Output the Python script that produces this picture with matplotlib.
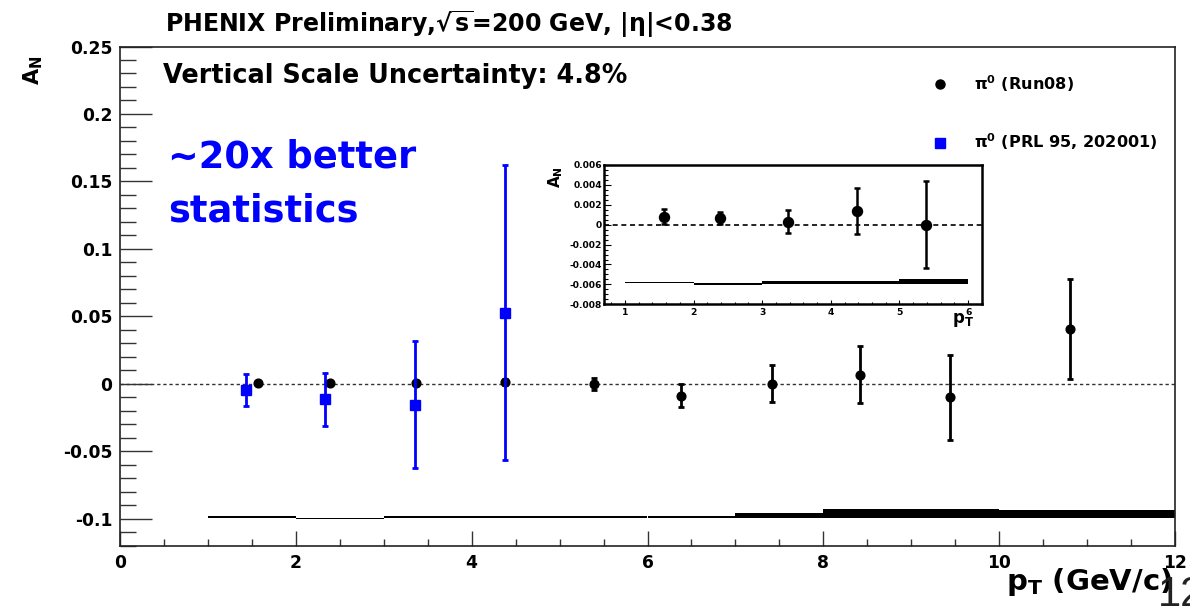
import matplotlib
matplotlib.use('Agg')
import matplotlib.pyplot as plt
import numpy as np
from matplotlib.lines import Line2D
from matplotlib.ticker import MultipleLocator

plt.rcParams['font.family'] = ['DejaVu Sans']
plt.rcParams['font.weight'] = 'bold'
plt.rcParams['mathtext.fontset'] = 'dejavusans'
plt.rcParams['mathtext.default'] = 'bf'

# ---------------- data ----------------
pt_run08 = [1.57, 2.39, 3.37, 4.38, 5.39, 6.38, 7.42, 8.42, 9.44, 10.80]
an_run08 = [0.0008, 0.00067, 0.0003, 0.0014, 0.0000, -0.0090, 0.0000, 0.0068, -0.0101, 0.0405]
err_run08 = [0.00075, 0.0006, 0.00115, 0.0023, 0.0044, 0.0085, 0.0136, 0.0210, 0.0312, 0.0370]

pt_prl = [1.43, 2.33, 3.36, 4.38]
an_prl = [-0.0046, -0.0115, -0.0154, 0.0528]
err_prl = [0.0120, 0.0198, 0.0472, 0.1090]

sys_edges = [1, 2, 3, 4, 5, 6, 7, 8, 9, 10, 12]
sys_lo = [-0.0994, -0.1003, -0.0994, -0.0994, -0.0994, -0.0994, -0.0995, -0.0995, -0.0995, -0.0995]
sys_hi = [-0.0983, -0.0992, -0.0983, -0.0983, -0.0983, -0.0983, -0.0958, -0.0926, -0.0926, -0.0933]

inset_n = 5
inset_sys_edges = [1, 2, 3, 4, 5, 6]
inset_sys_lo = [-0.00590, -0.00607, -0.00594, -0.00594, -0.00597]
inset_sys_hi = [-0.00573, -0.00590, -0.00563, -0.00563, -0.00550]

xticks = [0, 2, 4, 6, 8, 10, 12]
xticklabels = ['0', '2', '4', '6', '8', '10', '12']
yticks = [-0.1, -0.05, 0, 0.05, 0.1, 0.15, 0.2, 0.25]
yticklabels = ['-0.1', '-0.05', '0', '0.05', '0.1', '0.15', '0.2', '0.25']

inset_xticks = [1, 2, 3, 4, 5, 6]
inset_xticklabels = ['1', '2', '3', '4', '5', '6']
inset_yticks = [-0.008, -0.006, -0.004, -0.002, 0, 0.002, 0.004, 0.006]
inset_yticklabels = ['-0.008', '-0.006', '-0.004', '-0.002', '0', '0.002', '0.004', '0.006']

legend_labels = [r'$\pi^0$ (Run08)', r'$\pi^0$ (PRL 95, 202001)']

W, H = 1190, 606
fig = plt.figure(figsize=(W / 100, H / 100), dpi=100)
fig.patch.set_facecolor('white')

# ---------------- main axes ----------------
ax = fig.add_axes([120 / W, 1 - 545.7 / H, 1055 / W, (545.7 - 46.5) / H])
ax.set_xlim(0, 12)
ax.set_ylim(-0.12, 0.25)
ax.axhline(0, color='#333333', lw=1.0, ls=(0, (2.4, 2.0)), zorder=1)

edges = np.array(sys_edges, dtype=float)
lo = np.array(sys_lo)
hi = np.array(sys_hi)
ax.bar(edges[:-1], hi - lo, bottom=lo, width=np.diff(edges), align='edge',
       color='black', linewidth=0, zorder=2)

ax.errorbar(pt_prl, an_prl, yerr=err_prl, fmt='s', color='#0000ff', ms=6.7,
            elinewidth=2.0, capsize=2.2, capthick=2.0, zorder=4)
ax.errorbar(pt_run08, an_run08, yerr=err_run08, fmt='o', color='black', ms=6.3,
            elinewidth=2.0, capsize=2.2, capthick=2.0, zorder=3)

ax.set_xticks(xticks)
ax.set_xticklabels(xticklabels)
ax.set_yticks(yticks)
ax.set_yticklabels(yticklabels)
ax.xaxis.set_minor_locator(MultipleLocator(0.5))
ax.yaxis.set_minor_locator(MultipleLocator(0.01))
ax.tick_params(which='both', direction='in', top=False, right=False, color='#333333', width=1.0)
ax.tick_params(axis='y', which='major', length=23, pad=5.5, labelsize=12.3)
ax.tick_params(axis='y', which='minor', length=11.5)
ax.tick_params(axis='x', which='major', length=10.8, pad=6, labelsize=12.3)
ax.tick_params(axis='x', which='minor', length=5)
for s in ax.spines.values():
    s.set_color('#222222')
    s.set_linewidth(1.2)

# legend
handles = [Line2D([], [], marker='o', ls='none', color='black', ms=6.5),
           Line2D([], [], marker='s', ls='none', color='#0000ff', ms=6.5)]
fig.legend(handles, legend_labels, loc='upper left', bbox_to_anchor=(932 / W, 1 - 73 / H),
           frameon=False, fontsize=11.6, handlelength=1.0, handletextpad=1.6,
           labelspacing=2.35, borderpad=0, borderaxespad=0)

# texts
fig.text(165 / W, 1 - 32 / H, r'PHENIX Preliminary,$\sqrt{s}$=200 GeV, |η|<0.38',
         fontsize=17, ha='left', va='baseline')
fig.text(163 / W, 1 - 82.7 / H, 'Vertical Scale Uncertainty: 4.8%',
         fontsize=18.4, ha='left', va='baseline')
fig.text(168 / W, 1 - 168 / H, '~20x better', color='#0000ff', fontsize=26.5,
         ha='left', va='baseline')
fig.text(168 / W, 1 - 222 / H, 'statistics', color='#0000ff', fontsize=26.5,
         ha='left', va='baseline')
fig.text(33.5 / W, 1 - 85 / H, r'$A_N$', rotation=90, ha='center', va='bottom', fontsize=15)
fig.text(1172 / W, 1 - 590 / H, r'$p_T$ (GeV/c)', ha='right', va='baseline', fontsize=21)
fig.text(1158 / W, 1 - 606 / H, '12', ha='left', va='baseline', fontsize=30,
         fontweight='normal', family=['Liberation Sans', 'DejaVu Sans'], color='#222222')

# ---------------- inset ----------------
axi = fig.add_axes([604.4 / W, 1 - 304.3 / H, 377.4 / W, 139.3 / H])
axi.set_facecolor('white')
axi.set_xlim(0.7, 6.2)
axi.set_ylim(-0.008, 0.006)
axi.axhline(0, color='black', lw=1.2, ls=(0, (3, 2.2)), zorder=1)

iedges = np.array(inset_sys_edges, dtype=float)
ilo = np.array(inset_sys_lo)
ihi = np.array(inset_sys_hi)
axi.bar(iedges[:-1], ihi - ilo, bottom=ilo, width=np.diff(iedges), align='edge',
        color='black', linewidth=0, zorder=2)

axi.errorbar(pt_run08[:inset_n], an_run08[:inset_n], yerr=err_run08[:inset_n], fmt='o',
             color='black', ms=7.2, elinewidth=1.8, capsize=2.0, capthick=1.8, zorder=3)

axi.set_xticks(inset_xticks)
axi.set_xticklabels(inset_xticklabels)
axi.set_yticks(inset_yticks)
axi.set_yticklabels(inset_yticklabels)
axi.xaxis.set_minor_locator(MultipleLocator(0.2))
axi.yaxis.set_minor_locator(MultipleLocator(0.0005))
axi.tick_params(which='both', direction='in', top=False, right=False, color='black', width=0.8)
axi.tick_params(axis='y', which='major', length=5, pad=1.5, labelsize=6.6)
axi.tick_params(axis='y', which='minor', length=2.8)
axi.tick_params(axis='x', which='major', length=3, pad=3, labelsize=6.6)
axi.tick_params(axis='x', which='minor', length=1.5)
for s in axi.spines.values():
    s.set_color('black')
    s.set_linewidth(1.8)

fig.text(556 / W, 1 - 188 / H, r'$A_N$', rotation=90, ha='center', va='bottom', fontsize=11)
fig.text(974 / W, 1 - 311 / H, r'$p_T$', ha='right', va='top', fontsize=12)

fig.savefig('out.png', dpi=100, facecolor='white')
